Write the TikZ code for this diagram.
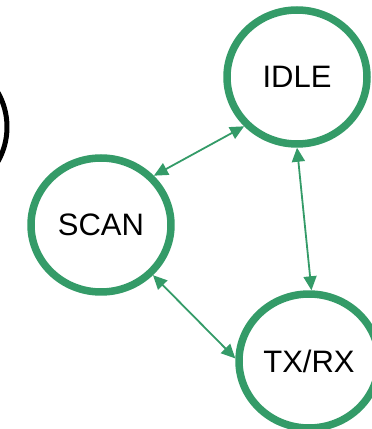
\documentclass[tikz,border=0pt]{standalone}
\usepackage{fontspec}
\setmainfont{Liberation Sans}
\usetikzlibrary{shapes.geometric,arrows.meta}
\definecolor{stategreen}{RGB}{52,155,104}

\begin{document}
\begin{tikzpicture}[x=1pt, y=1pt, line cap=round, line join=round,
    state/.style={ellipse, draw=stategreen, line width=7.5pt, fill=white,
        minimum width=140pt, minimum height=134pt, inner sep=0pt,
        font=\fontsize{31}{36}\selectfont},
    link/.style={stategreen, line width=1.8pt,
        {Triangle[length=14pt,width=13pt]}-{Triangle[length=14pt,width=13pt]}}]

                \useasboundingbox (0,0) rectangle (372,429);
                \clip (0,0) rectangle (372,429);

                \draw[line width=5pt] (-63,302) circle (70);

                \node[state] (idle) at (297,352) {IDLE};
                \node[state] (scan) at (101,204) {SCAN};
                \node[state] (txrx) at (309,68) {TX/RX};

                \draw[link] (scan.43) -- (idle.223);
                \draw[link] (scan.-44) -- (txrx.178);
                \draw[link] (idle.-90) -- (txrx.88);

            \end{tikzpicture}
\end{document}
